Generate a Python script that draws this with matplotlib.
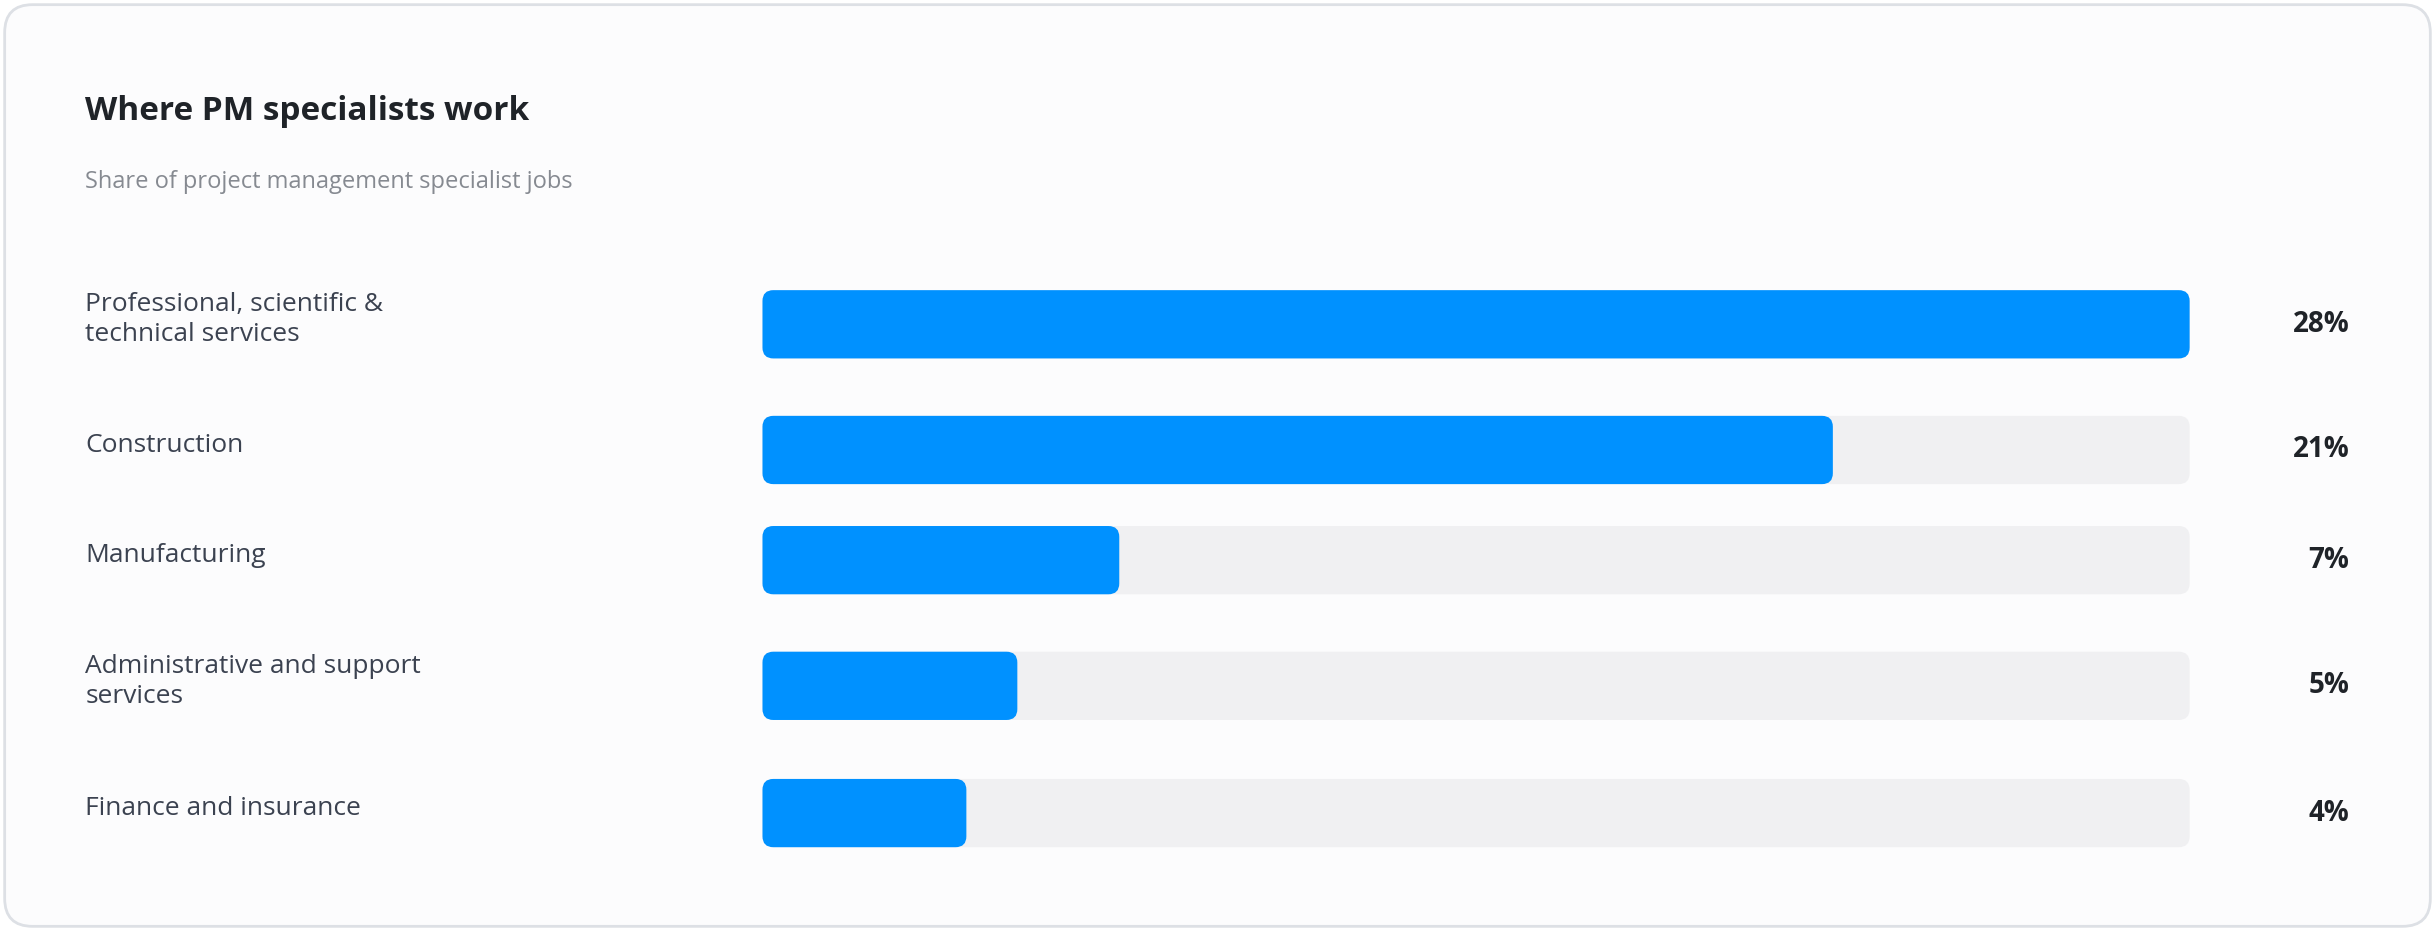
import matplotlib.pyplot as plt
from matplotlib.patches import FancyBboxPatch

plt.rcParams['font.family'] = ['Open Sans', 'DejaVu Sans']

categories = ['Professional, scientific &\ntechnical services', 'Construction',
              'Manufacturing', 'Administrative and support\nservices', 'Finance and insurance']
shares = [28, 21, 7, 5, 4]
value_labels = ['28%', '21%', '7%', '5%', '4%']
max_share = 28

# layout in reference pixels (1568 x 600 view)
W, H = 1568, 600
centers = [209, 290, 361, 442, 524]
bar_h = 44
x0, x1 = 491, 1410

fig = plt.figure(figsize=(24.35, 9.31), dpi=100)
fig.patch.set_facecolor('white')

bg = fig.add_axes([0, 0, 1, 1])
bg.set_xlim(0, W)
bg.set_ylim(H, 0)
bg.axis('off')
bg.add_patch(FancyBboxPatch((3, 3), W - 6, H - 6, boxstyle='round,pad=0,rounding_size=18',
                            facecolor='#fcfcfd', edgecolor='#dde0e5', linewidth=2))

bg.text(55, 72, 'Where PM specialists work', fontsize=24, fontweight='bold',
        color='#1f2328', va='center')
bg.text(55, 117, 'Share of project management specialist jobs', fontsize=17,
        color='#868a91', va='center')
for c, lab, v in zip(centers, categories, value_labels):
    bg.text(55, c - 3, lab, fontsize=19, color='#3b4250', va='center', linespacing=1.25)
    bg.text(1513, c, v, fontsize=20, fontweight='bold', color='#1f2328', va='center', ha='right')

ax = fig.add_axes([x0 / W, 0, (x1 - x0) / W, 1])
ax.set_xlim(0, max_share)
ax.set_ylim(H, 0)
ax.axis('off')

aspect = 1 / (max_share / (x1 - x0))
r = 7 * max_share / (x1 - x0)
track = ax.barh(centers, [max_share] * len(shares), height=bar_h)
bars = ax.barh(centers, shares, height=bar_h)
for group, col in ((track, '#f0f0f2'), (bars, '#0091ff')):
    for p in group:
        p.set_visible(False)
        ax.add_patch(FancyBboxPatch((p.get_x(), p.get_y()), p.get_width(), p.get_height(),
                                    boxstyle=f'round,pad=0,rounding_size={r}',
                                    mutation_aspect=aspect, facecolor=col, edgecolor='none'))

fig.savefig('out.png', dpi=100)
